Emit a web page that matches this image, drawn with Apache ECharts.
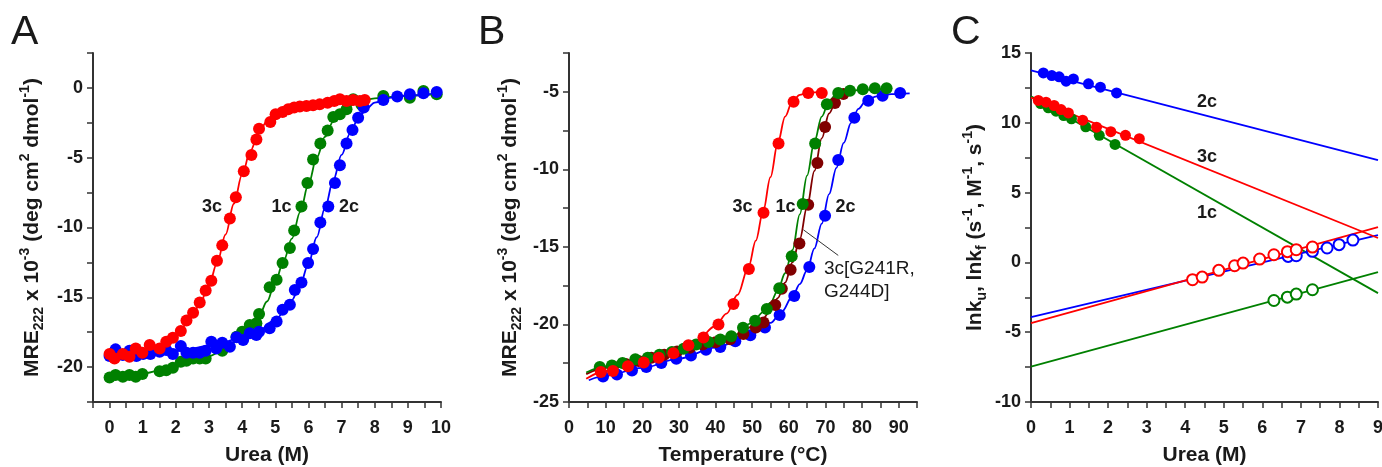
<!DOCTYPE html>
<html><head><meta charset="utf-8">
<script src="https://cdn.jsdelivr.net/npm/echarts/dist/echarts.min.js"></script>
<style>html,body{margin:0;padding:0;background:#fff}#c{width:1382px;height:467px}</style>
</head><body><div id="c"></div><script>
// ---------- Panel A: urea denaturation (points) ----------
const ureaRed3c = [[0,-19.07],[0.15,-19.38],[0.4,-19.07],[0.6,-19.26],[0.79,-18.66],[0.99,-18.97],[1.21,-18.42],[1.51,-18.66],[1.71,-18.18],[1.91,-17.89],[2.15,-17.41],[2.32,-16.67],[2.52,-16.1],[2.72,-15.38],[2.9,-14.51],[3.07,-13.82],[3.24,-12.38],[3.4,-11.28],[3.63,-9.35],[3.81,-7.84],[4.05,-5.97],[4.28,-4.8],[4.43,-3.69],[4.51,-2.93],[4.85,-2.45],[5.01,-1.89],[5.22,-1.73],[5.39,-1.53],[5.57,-1.41],[5.74,-1.34],[5.94,-1.29],[6.14,-1.25],[6.34,-1.18],[6.58,-1.06],[6.78,-0.94],[6.95,-0.82],[7.15,-0.94],[7.35,-0.86],[7.55,-0.94],[7.7,-0.86]];
const ureaGreen1c = [[0,-20.74],[0.18,-20.57],[0.4,-20.69],[0.6,-20.57],[0.79,-20.69],[0.99,-20.5],[1.51,-20.29],[1.71,-20.22],[1.91,-20.05],[2.15,-19.62],[2.32,-19.55],[2.52,-19.38],[2.72,-19.38],[2.9,-19.38],[3.4,-18.83],[3.83,-17.82],[4.0,-17.46],[4.23,-16.98],[4.43,-16.86],[4.51,-16.19],[4.83,-14.28],[5.04,-13.75],[5.22,-12.55],[5.44,-11.47],[5.57,-10.22],[5.79,-8.49],[5.97,-6.81],[6.14,-5.13],[6.36,-3.98],[6.58,-3.05],[6.75,-2.09],[6.95,-1.89],[7.15,-1.53],[7.35,-0.82],[7.6,-1.2],[8.26,-0.58],[9.06,-0.7],[9.47,-0.22],[9.87,-0.46]];
const ureaBlue2c = [[0,-19.21],[0.18,-18.73],[0.4,-19.14],[0.6,-18.83],[0.81,-19.21],[1.01,-19.07],[1.23,-19.07],[1.51,-18.9],[1.71,-18.78],[1.91,-19.07],[2.15,-18.49],[2.32,-18.97],[2.52,-18.97],[2.72,-18.97],[2.9,-18.83],[3.07,-18.18],[3.22,-18.66],[3.4,-18.25],[3.63,-18.54],[3.83,-17.87],[4.03,-18.06],[4.23,-17.58],[4.43,-17.7],[4.51,-17.46],[4.83,-17.22],[5.04,-16.74],[5.22,-15.9],[5.44,-15.54],[5.59,-14.47],[5.79,-13.94],[5.99,-12.55],[6.14,-11.54],[6.36,-9.64],[6.6,-8.49],[6.8,-6.81],[6.95,-5.54],[7.15,-3.98],[7.33,-3.02],[7.5,-2.13],[7.67,-1.41],[8.26,-0.86],[8.68,-0.62],[9.06,-0.46],[9.47,-0.38],[9.87,-0.29]];
// Panel A fitted curves
const ureaFitRed3c = [[0,-19.1],[1,-18.85],[1.5,-18.5],[2,-17.8],[2.5,-16.3],[2.75,-15.3],[3,-14.1],[3.25,-12.5],[3.5,-10.5],[3.75,-8.3],[4,-6.2],[4.25,-4.5],[4.5,-3.2],[4.75,-2.4],[5,-1.9],[5.5,-1.5],[6,-1.3],[7,-1.0],[7.7,-0.85]];
const ureaFitGreen1c = [[0,-20.7],[1,-20.45],[2,-19.9],[3,-19.2],[3.5,-18.7],[4,-17.8],[4.5,-16.4],[4.75,-15.3],[5,-13.9],[5.25,-12.4],[5.5,-10.8],[5.75,-8.9],[6,-6.9],[6.25,-5.0],[6.5,-3.5],[6.75,-2.4],[7,-1.7],[7.5,-1.0],[8,-0.75],[9,-0.55],[10,-0.4]];
const ureaFitBlue2c = [[0,-19.2],[1,-19.05],[2,-18.85],[3,-18.5],[4,-17.9],[4.5,-17.4],[5,-16.6],[5.5,-15.2],[5.75,-14.1],[6,-12.6],[6.25,-10.7],[6.5,-8.6],[6.75,-6.6],[7,-4.8],[7.25,-3.3],[7.5,-2.2],[7.75,-1.5],[8,-1.05],[8.5,-0.7],[9,-0.55],[10,-0.35]];

// ---------- Panel B: thermal denaturation ----------
const tempRed3c = [[8.7,-23.07],[12,-23.0],[16.1,-22.7],[20.4,-22.45],[24.5,-22.14],[28.5,-21.85],[32.6,-21.34],[36.7,-20.84],[40.8,-20.0],[44.9,-18.68],[49.1,-16.43],[53.1,-12.8],[57.2,-8.33],[61.3,-5.65],[65.3,-5.08],[69,-5.08]];
const tempGreen1c = [[8.4,-22.75],[11.7,-22.64],[14.6,-22.49],[18.1,-22.25],[21.5,-22.14],[24.7,-21.95],[28.1,-21.77],[31.3,-21.56],[34.7,-21.3],[38.1,-21.13],[41.3,-20.97],[44.3,-20.76],[47.5,-20.22],[50.8,-19.76],[54,-19.0],[57.4,-17.66],[60.8,-15.6],[63.8,-12.23],[67.2,-8.33],[70.4,-5.8],[73.5,-5.08],[76.7,-4.94],[80.2,-4.83],[83.5,-4.78],[86.7,-4.78]];
const tempDarkRedMut = [[8.5,-22.85],[12,-22.7],[15.5,-22.55],[19,-22.35],[22.5,-22.15],[26,-21.95],[29.5,-21.75],[33,-21.5],[36.5,-21.3],[40,-21.15],[44,-20.95],[47.6,-20.62],[51,-20.2],[53.1,-19.87],[56.3,-18.75],[58.1,-17.7],[60.5,-16.47],[62.9,-14.78],[65.3,-12.29],[67.8,-9.59],[69.9,-7.27],[72.6,-5.73],[74.9,-5.15]];
const tempBlue2c = [[9.3,-23.35],[13.1,-23.23],[17.2,-22.97],[21.1,-22.75],[25.2,-22.49],[29.3,-22.21],[33.3,-22.0],[37.4,-21.63],[41.3,-21.46],[45.4,-21.08],[49.5,-20.69],[53.5,-20.2],[57.5,-19.39],[61.5,-18.16],[65.6,-16.3],[69.9,-13.0],[73.5,-9.4],[77.9,-6.67],[81.7,-5.58],[85.6,-5.26],[90.4,-5.08]];
const tempFitRed3c = [[4.7,-23.5],[10,-23.0],[15,-22.7],[20,-22.4],[25,-22.05],[30,-21.6],[35,-21.0],[40,-20.1],[43,-19.3],[46,-18.1],[49,-16.3],[51,-14.6],[53,-12.7],[55,-10.5],[57,-8.3],[59,-6.6],[61,-5.6],[63,-5.2],[65,-5.05],[69.5,-5.0]];
const tempFitGreen1c = [[4.7,-23.1],[10,-22.7],[20,-22.2],[30,-21.6],[40,-21.05],[45,-20.7],[50,-19.9],[53,-19.2],[55,-18.6],[57,-17.8],[59,-16.7],[61,-15.2],[63,-12.9],[65,-10.4],[67,-8.2],[69,-6.6],[71,-5.6],[73,-5.15],[75,-4.98],[80,-4.88],[87,-4.82]];
const tempFitDarkRedMut = [[4.7,-23.2],[10,-22.8],[20,-22.3],[30,-21.7],[40,-21.2],[45,-20.85],[50,-20.15],[53,-19.6],[55,-19.1],[57,-18.3],[59,-17.3],[61,-16.0],[63,-14.5],[65,-12.4],[67,-10.1],[69,-8.0],[71,-6.4],[73,-5.5],[75,-5.15]];
const tempFitBlue2c = [[5.4,-23.6],[10,-23.3],[20,-22.8],[30,-22.2],[40,-21.5],[50,-20.6],[55,-19.9],[58,-19.2],[61,-18.2],[63,-17.4],[65,-16.5],[67,-15.1],[69,-13.5],[71,-11.6],[73,-9.9],[75,-8.3],[77,-7.0],[79,-6.1],[81,-5.6],[84,-5.3],[88,-5.15],[93,-5.1]];
// leader line of the mutant annotation (data coords)
const tempLeader = [[64.0,-13.9],[73.5,-15.55]];

// ---------- Panel C: chevron plot ----------
const lnkuBlue2c = [[0.32,13.57],[0.54,13.38],[0.73,13.29],[0.91,12.98],[1.1,13.14],[1.49,12.79],[1.8,12.55],[2.22,12.14]];
const lnkuRed3c = [[0.19,11.6],[0.39,11.48],[0.6,11.24],[0.78,10.95],[0.97,10.71],[1.34,10.19],[1.7,9.69],[2.07,9.36],[2.45,9.1],[2.81,8.86]];
const lnkuGreen1c = [[0.25,11.38],[0.45,11.07],[0.65,10.83],[0.85,10.52],[1.05,10.29],[1.42,9.71],[1.77,9.1],[2.18,8.45]];
const lnkfRed3c = [[4.19,-1.24],[4.44,-1.05],[4.87,-0.57],[5.28,-0.24],[5.5,-0.05],[5.93,0.24],[6.3,0.55],[6.65,0.77],[6.88,0.91],[7.3,1.1]];
const lnkfBlue2c = [[6.67,0.43],[6.88,0.48],[7.3,0.79],[7.68,1.03],[7.99,1.27],[8.35,1.6]];
const lnkfGreen1c = [[6.3,-2.73],[6.65,-2.49],[6.88,-2.27],[7.3,-1.96]];
const fitLnkuBlue2c = [[0,13.76],[9,7.33]];
const fitLnkuRed3c = [[0,11.8],[9,1.75]];
const fitLnkuGreen1c = [[0,11.9],[9,-2.2]];
const fitLnkfBlue2c = [[0,-3.92],[9,1.96]];
const fitLnkfRed3c = [[0,-4.35],[9,2.53]];
const fitLnkfGreen1c = [[0,-7.46],[9,-0.69]];

// ---------- styling ----------
const FONT = 'Arial, "Liberation Sans", Helvetica, sans-serif';
const RED = '#ff0000', GREEN = '#008000', BLUE = '#0000ff', DRED = '#800000';
const AXC = '#333333', TXT = '#1a1a1a';

function isMult(v, step){ const r = v/step; return Math.abs(r - Math.round(r)) < 1e-6; }
const richName = {
  b:{fontSize:21, fontWeight:'bold', fontFamily:FONT, color:TXT, lineHeight:28},
  sub:{fontSize:14, fontWeight:'bold', fontFamily:FONT, color:TXT, verticalAlign:'bottom'},
  sup:{fontSize:14, fontWeight:'bold', fontFamily:FONT, color:TXT, verticalAlign:'top'}
};
function axisCommon(){
  return {
    axisLine:{onZero:false, lineStyle:{color:AXC, width:2}},
    axisTick:{length:6, lineStyle:{color:AXC, width:1.5}},
    splitLine:{show:false}
  };
}
function xAx(gi, min, max, interval, labelStep, name){
  return Object.assign(axisCommon(), {
    type:'value', gridIndex:gi, min, max, interval,
    axisLabel:{margin:17, fontSize:18, fontWeight:'bold', color:TXT, fontFamily:FONT,
      formatter: v => isMult(v, labelStep) ? String(Math.round(v)) : ''},
    name, nameLocation:'middle', nameGap:43,
    nameTextStyle:{fontSize:21, fontWeight:'bold', color:TXT, fontFamily:FONT}
  });
}
function yAx(gi, min, max, interval, labelStep, name, gap){
  return Object.assign(axisCommon(), {
    type:'value', gridIndex:gi, min, max, interval,
    axisLabel:{margin:10, fontSize:18, fontWeight:'bold', color:TXT, fontFamily:FONT,
      formatter: v => isMult(v, labelStep) ? String(Math.round(v)) : ''},
    name, nameLocation:'middle', nameRotate:90, nameGap:gap,
    nameTextStyle:{rich:richName}
  });
}
function pts(data, color, xi, open, size){
  return {type:'scatter', xAxisIndex:xi, yAxisIndex:xi, data, symbol:'circle', symbolSize:size||12,
    itemStyle: open ? {color:'#ffffff', borderColor:color, borderWidth:2, opacity:1} : {color, opacity:1},
    silent:true, z:3};
}
function fit(data, color, xi, w){
  return {type:'line', xAxisIndex:xi, yAxisIndex:xi, data, showSymbol:false, symbol:'none',
    smooth:0.35, smoothMonotone:'x', lineStyle:{color, width:w||1.8}, silent:true, z:2};
}
function straight(data, color, xi){
  return {type:'line', xAxisIndex:xi, yAxisIndex:xi, data, showSymbol:false, symbol:'none',
    lineStyle:{color, width:1.8}, silent:true, z:2};
}
function txt(x, y, s, size, weight, align){
  return {type:'text', x, y, silent:true, z:10, style:{text:s, fill:TXT,
    font:(weight||'bold')+' '+size+'px '+FONT, align:align||'center', verticalAlign:'middle',
    textAlign:align||'center', textVerticalAlign:'middle'}};
}

const yNameA = '{b|MRE}{sub|222}{b| x 10}{sup|-3}{b| (deg cm}{sup|2}{b| dmol}{sup|-1}{b|)}';
const yNameC = '{b|lnk}{sub|u}{b|, lnk}{sub|f}{b| (s}{sup|-1}{b|, M}{sup|-1}{b|, s}{sup|-1}{b|)}';

const chart = echarts.init(document.getElementById('c'), null, {renderer:'canvas'});
chart.setOption({
  animation:false,
  backgroundColor:'#ffffff',
  grid:[
    {left:93, top:53, width:348, height:349, containLabel:false, outerBoundsMode:'none'},
    {left:569, top:53, width:348, height:349, containLabel:false, outerBoundsMode:'none'},
    {left:1031, top:53, width:347, height:349, containLabel:false, outerBoundsMode:'none'}
  ],
  xAxis:[
    xAx(0, -0.5, 10, 0.5, 1, 'Urea (M)'),
    xAx(1, 0, 95, 5, 10, 'Temperature (°C)'),
    xAx(2, 0, 9, 0.5, 1, 'Urea (M)')
  ],
  yAxis:[
    yAx(0, -22.5, 2.5, 2.5, 5, yNameA, 47),
    yAx(1, -25, -2.5, 2.5, 5, yNameA, 45),
    yAx(2, -10, 15, 2.5, 5, yNameC, 42)
  ],
  series:[
    // A
    fit(ureaFitGreen1c, GREEN, 0), pts(ureaGreen1c, GREEN, 0),
    fit(ureaFitBlue2c, BLUE, 0), pts(ureaBlue2c, BLUE, 0),
    fit(ureaFitRed3c, RED, 0), pts(ureaRed3c, RED, 0),
    // B
    fit(tempFitBlue2c, BLUE, 1), pts(tempBlue2c, BLUE, 1),
    fit(tempFitDarkRedMut, DRED, 1), pts(tempDarkRedMut, DRED, 1),
    fit(tempFitGreen1c, GREEN, 1), pts(tempGreen1c, GREEN, 1),
    fit(tempFitRed3c, RED, 1), pts(tempRed3c, RED, 1),
    {type:'line', xAxisIndex:1, yAxisIndex:1, data:tempLeader, showSymbol:false, symbol:'none',
      lineStyle:{color:'#333333', width:1}, silent:true, z:4},
    // C
    straight(fitLnkuGreen1c, GREEN, 2), straight(fitLnkfGreen1c, GREEN, 2),
    straight(fitLnkuBlue2c, BLUE, 2), straight(fitLnkfBlue2c, BLUE, 2),
    straight(fitLnkuRed3c, RED, 2), straight(fitLnkfRed3c, RED, 2),
    pts(lnkuGreen1c, GREEN, 2, false, 11), pts(lnkfGreen1c, GREEN, 2, true, 11),
    pts(lnkuBlue2c, BLUE, 2, false, 11), pts(lnkfBlue2c, BLUE, 2, true, 11),
    pts(lnkuRed3c, RED, 2, false, 11), pts(lnkfRed3c, RED, 2, true, 11)
  ],
  graphic:[
    txt(11, 33, 'A', 41, 'normal', 'left'),
    txt(478, 33, 'B', 41, 'normal', 'left'),
    txt(951, 33, 'C', 41, 'normal', 'left'),
    txt(212, 207, '3c', 18), txt(281.5, 207, '1c', 18), txt(349, 207, '2c', 18),
    txt(742.5, 207, '3c', 18), txt(785.5, 207, '1c', 18), txt(845.5, 207, '2c', 18),
    txt(824, 269, '3c[G241R,', 19, 'normal', 'left'),
    txt(824, 292, 'G244D]', 19, 'normal', 'left'),
    txt(1207, 102.5, '2c', 18), txt(1207, 157.5, '3c', 18), txt(1207, 213.5, '1c', 18)
  ]
});
</script></body></html>
